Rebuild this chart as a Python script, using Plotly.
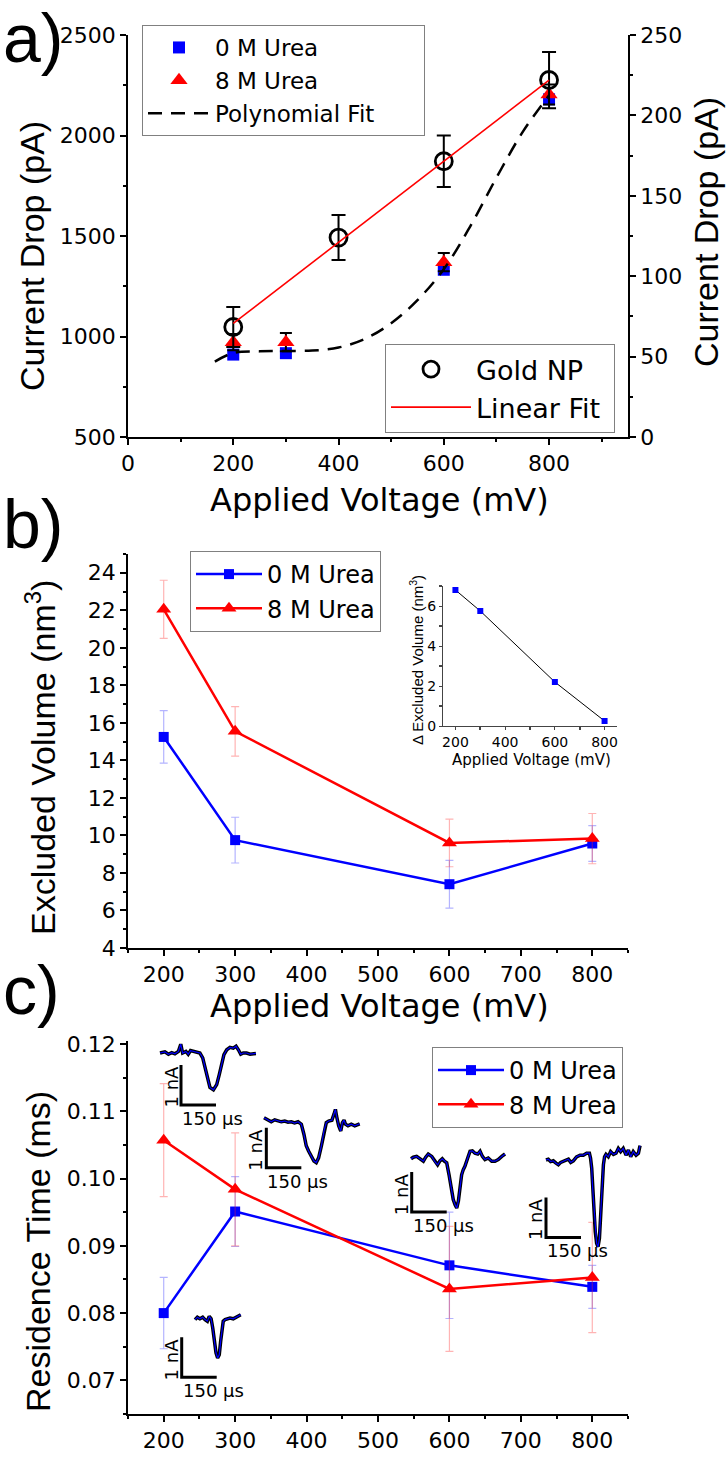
import plotly.graph_objects as go

W, H = 728, 1457
FONT = "DejaVu Sans, Liberation Sans, Arial, sans-serif"
FONT_V = "Liberation Sans, Arial, sans-serif"
NBSP = "\u00a0"

# ---------------- data ----------------
# Panel a
volt_a = [200, 300, 600, 800]
drop_urea0 = [910, 917, 1332, 2180]
drop_urea8 = [972, 972, 1370, 2204]
drop_urea8_err = [40, 45, 45, 50]
poly_volt = [165, 200, 250, 300, 350, 400, 450, 500, 550, 600, 650, 700, 750, 800]
poly_drop = [875, 918, 926, 928, 930, 945, 988, 1066, 1181, 1335, 1547, 1790, 2018, 2200]
gold_volt = [200, 400, 600, 800]
gold_drop = [68.4, 124.0, 171.5, 222.0]
gold_err = [12.5, 14.0, 16.0, 17.5]
lin_volt = [200, 800]
lin_drop = [70.6, 221.9]

# Panel b
volt_bc = [200, 300, 600, 800]
exvol_urea0 = [15.25, 9.75, 7.4, 9.57]
exvol_urea0_err = [1.4, 1.22, 1.27, 0.95]
exvol_urea8 = [22.05, 15.55, 9.6, 9.83]
exvol_urea8_err = [1.55, 1.32, 1.27, 1.34]
delta_exvol = [6.8, 5.75, 2.2, 0.25]

# Panel c
res_urea0 = [0.0800, 0.0951, 0.0871, 0.0839]
res_urea0_err = [0.0053, 0.0052, 0.0079, 0.0032]
res_urea8 = [0.1057, 0.0984, 0.0836, 0.0853]
res_urea8_err = [0.0084, 0.0084, 0.0093, 0.0082]

# Example event traces (time in us, current in nA)
ev1_t = [0, 21, 36, 50, 64, 79, 89, 97, 111, 121, 131, 143, 157, 171, 183, 193, 203, 214, 229, 243,
         254, 264, 274, 286, 300, 314, 326, 336, 346, 357, 371, 386, 400, 411]
ev1_i = [0, 0.03, -0.03, 0.01, -0.02, 0.04, 0.22, 0, 0.04, -0.03, 0.06, 0.04, 0.03, 0, -0.12, -0.37, -0.62,
         -0.86, -0.92, -0.79, -0.54, -0.25, -0.04, 0.08, 0.14, 0.12, 0.17, 0.08, -0.03, 0, 0, -0.03, -0.01, -0.01]
ev2_t = [0, 17, 31, 46, 60, 74, 89, 103, 117, 131, 146, 160, 171, 181, 191, 203, 214, 224, 234, 246,
         257, 267, 277, 291, 300, 306, 311, 320, 329, 336, 343, 349, 360, 374, 389, 410]
ev2_i = [0.08, 0.02, -0.02, 0.03, 0, -0.02, 0, -0.03, -0.02, -0.05, -0.02, -0.08, -0.33, -0.62, -0.75, -0.87,
         -1.0, -1.04, -0.92, -0.62, -0.25, -0.04, 0, 0.02, 0.17, 0.29, 0.12, -0.12, -0.25, -0.04, 0.02, -0.08,
         -0.12, -0.08, -0.12, -0.07]
ev3_t = [0, 10, 24, 39, 53, 63, 74, 89, 103, 114, 124, 134, 143, 153, 163, 171, 181, 189, 196, 203,
         210, 217, 224, 231, 243, 253, 263, 274, 286, 296, 306, 317, 331, 346, 360, 374, 389, 403]
ev3_i = [-0.02, 0.02, 0.04, -0.02, -0.08, 0.02, 0.1, 0.04, -0.1, -0.17, -0.07, -0.02, -0.08, -0.12, -0.42,
         -0.75, -1.04, -1.17, -1.25, -1.08, -0.75, -0.42, -0.29, -0.21, 0, 0.17, 0.18, 0.12, 0.1, 0.17, 0.04,
         -0.04, 0, -0.08, -0.08, -0.04, 0.04, 0.1]
ev4_t = [0, 10, 20, 31, 43, 53, 63, 74, 86, 96, 106, 117, 131, 146, 160, 174, 186, 191, 196, 200,
         206, 211, 217, 223, 229, 234, 240, 246, 251, 257, 267, 277, 289, 300, 310, 320, 331, 343, 353, 363,
         374, 386, 396, 403]
ev4_i = [0, 0.02, -0.04, -0.02, -0.08, -0.12, -0.06, -0.04, 0, 0.02, -0.06, -0.02, 0.08, 0.12, 0.12, 0.17,
         0.17, 0.04, -0.21, -0.71, -1.29, -1.79, -2.08, -2.17, -1.96, -1.37, -0.71, -0.12, 0.08, 0.14, 0.08,
         0.21, 0.14, 0.17, 0.29, 0.21, 0.29, 0.12, 0.25, 0.08, 0.21, 0.12, 0.17, 0.36]
ev5_t = [0, 10, 21, 33, 43, 53, 61, 69, 76, 83, 90, 97, 104, 110, 116, 121, 129, 139, 150, 164, 179, 196]
ev5_i = [-0.04, 0.02, -0.02, 0.02, -0.04, -0.08, 0.04, -0.02, -0.25, -0.58, -0.87, -1.0, -0.92, -0.58,
         -0.25, -0.08, -0.04, -0.02, 0, -0.02, 0.02, 0.08]
SCALE_T = 150   # us scale bar
SCALE_I = 1     # nA scale bar

# ---------------- layout helpers ----------------
def xdom(a, b):
    return [a / W, b / W]

def ydom(top, bottom):
    return [1 - bottom / H, 1 - top / H]

def px(x):
    return x / W

def py(y):
    return 1 - y / H

def axis(**kw):
    base = dict(showline=True, linecolor="black", linewidth=1.5, ticks="outside", ticklen=6,
                tickwidth=1.5, tickcolor="black", showgrid=False, zeroline=False, automargin=False,
                tickfont=dict(family=FONT, size=22, color="black"))
    base.update(kw)
    return base

def minor(d, ln=3, col="black"):
    return dict(ticks="outside", ticklen=ln, tickwidth=1.5, tickcolor=col, dtick=d, showgrid=False)

BLUE = "#0000FF"
RED = "#FF0000"
BLUE_ERR = "rgba(40,40,255,0.35)"
RED_ERR = "rgba(255,40,40,0.35)"

fig = go.Figure()

# ---------------- panel a ----------------
fig.add_trace(go.Scatter(x=volt_a, y=drop_urea0, mode="markers", name="0 M Urea",
                         marker=dict(symbol="square", size=12, color=BLUE),
                         xaxis="x", yaxis="y", legend="legend", legendgroup="a1"))
fig.add_trace(go.Scatter(x=volt_a, y=drop_urea8, mode="markers", name="8 M Urea",
                         marker=dict(symbol="triangle-up", size=15, color=RED),
                         error_y=dict(type="data", array=drop_urea8_err, color="black", thickness=2, width=6),
                         xaxis="x", yaxis="y", legend="legend", legendgroup="a2"))
fig.add_trace(go.Scatter(x=poly_volt, y=poly_drop, mode="lines", name="Polynomial Fit" + NBSP * 6,
                         line=dict(color="black", width=2.5, dash="14px,9px"), line_shape="spline",
                         xaxis="x", yaxis="y", legend="legend", legendgroup="a3"))
fig.add_trace(go.Scatter(x=gold_volt, y=gold_drop, mode="markers", name="Gold NP",
                         marker=dict(symbol="circle-open", size=17, color="black", line=dict(width=2.8)),
                         error_y=dict(type="data", array=gold_err, color="black", thickness=2, width=7),
                         xaxis="x", yaxis="y2", legend="legend2", legendgroup="a4"))
fig.add_trace(go.Scatter(x=lin_volt, y=lin_drop, mode="lines", name="Linear Fit" + NBSP,
                         line=dict(color=RED, width=1.6),
                         xaxis="x", yaxis="y2", legend="legend2", legendgroup="a5"))

# ---------------- panel b ----------------
fig.add_trace(go.Scatter(x=volt_bc, y=exvol_urea0, mode="lines+markers", name="0 M Urea",
                         line=dict(color=BLUE, width=2.5), marker=dict(symbol="square", size=10, color=BLUE),
                         error_y=dict(type="data", array=exvol_urea0_err, color=BLUE_ERR, thickness=1.2, width=4),
                         xaxis="x2", yaxis="y3", legend="legend3", legendgroup="b1"))
fig.add_trace(go.Scatter(x=volt_bc, y=exvol_urea8, mode="lines+markers", name="8 M Urea",
                         line=dict(color=RED, width=2.5), marker=dict(symbol="triangle-up", size=13, color=RED),
                         error_y=dict(type="data", array=exvol_urea8_err, color=RED_ERR, thickness=1.2, width=4),
                         xaxis="x2", yaxis="y3", legend="legend3", legendgroup="b2"))
fig.add_trace(go.Scatter(x=volt_bc, y=delta_exvol, mode="lines+markers", showlegend=False,
                         line=dict(color="black", width=1), marker=dict(symbol="square", size=6, color=BLUE),
                         xaxis="x3", yaxis="y4"))

# ---------------- panel c ----------------
fig.add_trace(go.Scatter(x=volt_bc, y=res_urea0, mode="lines+markers", name="0 M Urea",
                         line=dict(color=BLUE, width=2.5), marker=dict(symbol="square", size=10, color=BLUE),
                         error_y=dict(type="data", array=res_urea0_err, color=BLUE_ERR, thickness=1.2, width=4),
                         xaxis="x4", yaxis="y5", legend="legend4", legendgroup="c1"))
fig.add_trace(go.Scatter(x=volt_bc, y=res_urea8, mode="lines+markers", name="8 M Urea",
                         line=dict(color=RED, width=2.5), marker=dict(symbol="triangle-up", size=13, color=RED),
                         error_y=dict(type="data", array=res_urea8_err, color=RED_ERR, thickness=1.2, width=4),
                         xaxis="x4", yaxis="y5", legend="legend4", legendgroup="c2"))

# event insets: (t, i, origin px x, origin px y, scale-bar t, scale-bar bottom i)
events = [
    (ev1_t, ev1_i, 160, 1053, 90, -1.3),
    (ev2_t, ev2_i, 264, 1121, 10, -1.17),
    (ev3_t, ev3_i, 411, 1158, 3, -1.35),
    (ev4_t, ev4_i, 546, 1160, 0, -1.94),
    (ev5_t, ev5_i, 195, 1318, -57, -1.48),
]
US_PER_PX = 150 / 35.0
NA_PER_PX = 1 / 40.0
T_RANGE = [-170, 420]
I_RANGE = [-2.4, 0.5]

layout_axes = {}
annotations = []
for k, (t, cur, ox, oy, tb, ib) in enumerate(events):
    xn = 5 + k
    yn = 6 + k
    xd = [(ox + T_RANGE[0] / US_PER_PX) / W, (ox + T_RANGE[1] / US_PER_PX) / W]
    yd = [1 - (oy - I_RANGE[0] / NA_PER_PX) / H, 1 - (oy - I_RANGE[1] / NA_PER_PX) / H]
    layout_axes["xaxis%d" % xn] = dict(domain=xd, range=T_RANGE, visible=False, anchor="y%d" % yn)
    layout_axes["yaxis%d" % yn] = dict(domain=yd, range=I_RANGE, visible=False, anchor="x%d" % xn)
    fig.add_trace(go.Scatter(x=t, y=cur, mode="lines", showlegend=False, line=dict(color="black", width=3.5),
                             xaxis="x%d" % xn, yaxis="y%d" % yn, hoverinfo="skip"))
    fig.add_trace(go.Scatter(x=t, y=cur, mode="lines", showlegend=False, line=dict(color=BLUE, width=1.2),
                             xaxis="x%d" % xn, yaxis="y%d" % yn, hoverinfo="skip"))
    fig.add_trace(go.Scatter(x=[tb, tb, tb + SCALE_T], y=[ib + SCALE_I, ib, ib], mode="lines",
                             showlegend=False, line=dict(color="black", width=3),
                             xaxis="x%d" % xn, yaxis="y%d" % yn, hoverinfo="skip"))
    annotations.append(dict(text="%d nA" % SCALE_I, x=tb - 45, y=ib + 0.45, xref="x%d" % xn, yref="y%d" % yn,
                            textangle=-90, showarrow=False, font=dict(family=FONT, size=18, color="black"),
                            xanchor="center", yanchor="middle"))
    annotations.append(dict(text="%d µs" % SCALE_T, x=tb - 5, y=ib - 0.33, xref="x%d" % xn, yref="y%d" % yn,
                            showarrow=False, font=dict(family=FONT, size=18, color="black"),
                            xanchor="left", yanchor="middle"))

# ---------------- text labels ----------------
def label(text, x, y, size, angle=0, xanchor="center", family=FONT):
    annotations.append(dict(text=text, x=px(x), y=py(y), xref="paper", yref="paper", showarrow=False,
                            textangle=angle, xanchor=xanchor, yanchor="middle",
                            font=dict(family=family, size=size, color="black")))

label("a)", 1, 38, 68, xanchor="left", family=FONT_V)
label("b)", 1, 524, 68, xanchor="left", family=FONT_V)
label("c)", 1, 990, 68, xanchor="left", family=FONT_V)
label("Current Drop (pA)", 32, 256, 34, angle=-90, family=FONT_V)
label("Current Drop (pA)", 706, 232, 34, angle=-90, family=FONT_V)
label("Applied Voltage (mV)", 379, 500, 32)
label("Excluded Volume (nm<sup>3</sup>)", 40, 758, 34, angle=-90, family=FONT_V)
label("Applied Voltage (mV)", 379, 1006, 32)
label("Residence Time (ms)", 38, 1252, 34, angle=-90, family=FONT_V)
label("Δ Excluded Volume (nm<sup>3</sup>)", 416, 660, 15, angle=-90, family=FONT_V)
label("Applied Voltage (mV)", 531, 760, 15)

def legend_style(x, y, size, iw):
    return dict(font=dict(family=FONT, size=size, color="black"), bordercolor="#808080", borderwidth=1,
                bgcolor="white", xanchor="left", yanchor="top", traceorder="normal", tracegroupgap=4,
                itemwidth=iw, x=px(x), y=py(y))

inset_tick = dict(family=FONT, size=14, color="black")

fig.update_layout(
    width=W, height=H, margin=dict(l=0, r=0, t=0, b=0),
    paper_bgcolor="white", plot_bgcolor="rgba(0,0,0,0)",
    font=dict(family=FONT, color="black"),
    showlegend=True,
    xaxis=axis(domain=xdom(128, 628), range=[0, 950], dtick=200, tick0=0, minor=minor(100), anchor="y"),
    yaxis=axis(domain=ydom(35, 437), range=[500, 2500], dtick=500, minor=minor(250), anchor="x"),
    yaxis2=axis(overlaying="y", side="right", range=[0, 250], dtick=50, minor=minor(25), anchor="x"),
    xaxis2=axis(domain=xdom(128, 628), range=[150, 850], dtick=100, minor=minor(50), anchor="y3"),
    yaxis3=axis(domain=ydom(554, 948), range=[4, 25], dtick=2, minor=minor(1), anchor="x2"),
    xaxis3=axis(domain=xdom(443, 617), range=[150, 850], dtick=200, minor=minor(100, 3, "#444"), anchor="y4",
                linewidth=1, linecolor="#444", ticklen=3, tickwidth=1, tickcolor="#444", tickfont=inset_tick),
    yaxis4=axis(domain=ydom(586, 726), range=[0, 7], dtick=2, minor=minor(1, 3, "#444"), anchor="x3",
                linewidth=1, linecolor="#444", ticklen=3, tickwidth=1, tickcolor="#444", tickfont=inset_tick),
    xaxis4=axis(domain=xdom(128, 628), range=[150, 850], dtick=100, minor=minor(50), anchor="y5"),
    yaxis5=axis(domain=ydom(1041, 1414), range=[0.065, 0.12045], dtick=0.01, tick0=0, tickformat=".2f",
                minor=minor(0.005), anchor="x4"),
    legend=legend_style(142, 25, 23, 62),
    legend2=legend_style(385, 344, 27, 80),
    legend3=legend_style(190, 551, 24, 66),
    legend4=legend_style(432, 1047, 24, 66),
    annotations=annotations,
    **layout_axes,
)

fig.write_html("out.html", config={"displayModeBar": False},
               post_script="document.body.style.margin='0px';document.body.style.padding='0px';"
                           "document.documentElement.style.overflow='hidden';")
